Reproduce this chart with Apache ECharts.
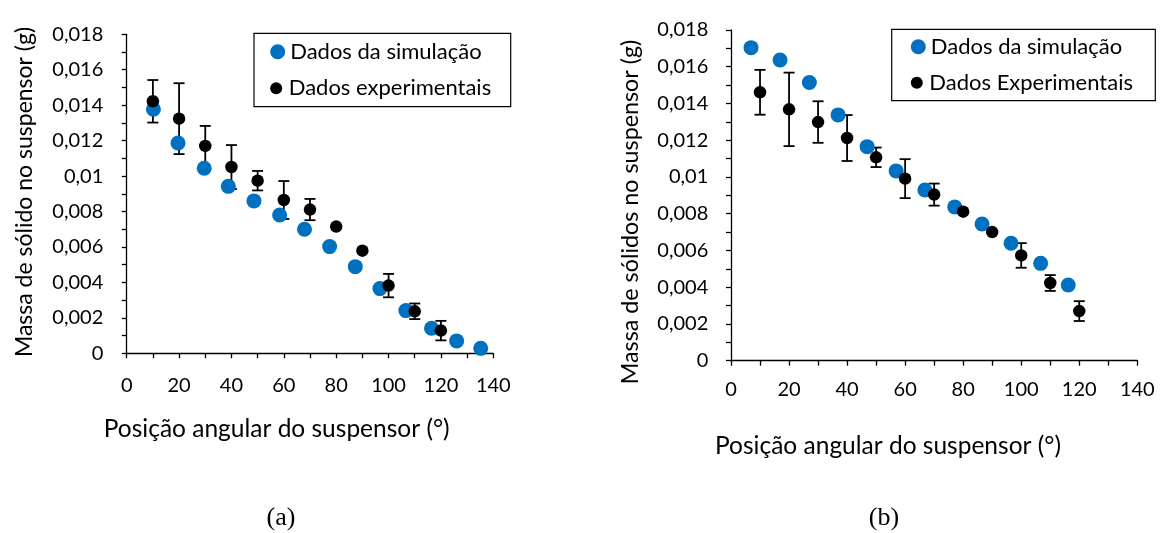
<!DOCTYPE html>
<html><head><meta charset="utf-8">
<script src="https://cdn.jsdelivr.net/npm/echarts@6/dist/echarts.min.js"></script>
<style>html,body{margin:0;padding:0;background:#fff}#c{width:1163px;height:533px}</style>
</head><body><div id="c"></div>
<script>
// ---- data ----
const xTickLabels = ['0','20','40','60','80','100','120','140'];
const yTickLabels = ['0','0,002','0,004','0,006','0,008','0,01','0,012','0,014','0,016','0,018'];

// chart (a)
const xSimA = [10.2, 19.6, 29.6, 38.8, 48.6, 58.4, 67.9, 77.5, 87.3, 96.7, 106.6, 116.4, 126.0, 135.2];
const ySimA = [0.01377, 0.01187, 0.01044, 0.00942, 0.0086, 0.0078, 0.0070, 0.00602, 0.00489, 0.00365, 0.00241, 0.00141, 0.00070, 0.00028];
const xExpA = [10, 20, 30, 40, 50, 60, 70, 80, 90, 100, 110, 120];
const yExpA = [0.01422, 0.01324, 0.01170, 0.01051, 0.00974, 0.00865, 0.00811, 0.00715, 0.00579, 0.00382, 0.00237, 0.00128];
const errA  = [0.0012, 0.0020, 0.00113, 0.00124, 0.00055, 0.00107, 0.0006, 0, 0, 0.00066, 0.00044, 0.00055];

// chart (b)
const xSimB = [6.9, 16.9, 27.0, 36.9, 46.9, 56.9, 66.8, 77.1, 86.5, 96.5, 106.7, 116.2];
const ySimB = [0.01704, 0.01637, 0.01514, 0.01338, 0.01165, 0.01033, 0.00929, 0.00837, 0.00744, 0.00639, 0.00530, 0.00412];
const xExpB = [10, 20, 30, 40, 50, 60, 70, 80, 90, 100, 110, 120];
const yExpB = [0.01461, 0.01368, 0.01299, 0.01212, 0.01107, 0.00991, 0.00904, 0.00811, 0.0070, 0.00573, 0.00423, 0.0027];
const errB  = [0.00122, 0.0020, 0.00113, 0.00125, 0.00053, 0.00106, 0.0006, 0, 0, 0.00067, 0.00043, 0.00054];

const nameSim = 'Dados da simulação';
const nameExpA = 'Dados experimentais';
const nameExpB = 'Dados Experimentais';
const xTitle = 'Posição angular do suspensor (°)';
const yTitleA = 'Massa de sólido no suspensor (g)';
const yTitleB = 'Massa de sólidos no suspensor (g)';

// ---- build ----
const FONT = 'Lato';
const BLUE = '#0070C0';
const zip = (a, b) => a.map((v, i) => [v, b[i]]);
const zip3 = (a, b, c) => a.map((v, i) => [v, b[i], c[i]]);

function xAxis(gi, margin) {
  return {
    type: 'value', gridIndex: gi, min: 0, max: 140, interval: 20,
    axisLine: { show: true, lineStyle: { color: '#000', width: 1.3 } },
    axisTick: { show: true, inside: false, length: 5, lineStyle: { color: '#000', width: 1.3 } },
    minorTick: { show: true, splitNumber: 2, length: 5, lineStyle: { color: '#000', width: 1.3 } },
    splitLine: { show: false },
    axisLabel: { margin: margin, color: '#000', fontFamily: FONT, fontSize: 20,
      formatter: v => xTickLabels[Math.round(v / 20)] }
  };
}
function yAxis(gi, margin) {
  return {
    type: 'value', gridIndex: gi, min: 0, max: 0.018, interval: 0.002,
    axisLine: { show: true, onZero: false, lineStyle: { color: '#000', width: 1.3 } },
    axisTick: { show: true, inside: false, length: 5, lineStyle: { color: '#000', width: 1.3 } },
    minorTick: { show: true, splitNumber: 2, length: 5, lineStyle: { color: '#000', width: 1.3 } },
    splitLine: { show: false },
    axisLabel: { margin: margin, color: '#000', fontFamily: FONT, fontSize: 20,
      formatter: v => yTickLabels[Math.round(v / 0.002)] }
  };
}
function errSeries(gi, data) {
  return {
    type: 'custom', xAxisIndex: gi, yAxisIndex: gi, z: 1, silent: true,
    data: data,
    renderItem: function (params, api) {
      const x = api.value(0), y = api.value(1), e = api.value(2);
      if (!e) return null;
      const top = api.coord([x, y + e]);
      const bot = api.coord([x, y - e]);
      const w = 5.5;
      const st = { stroke: '#000', lineWidth: 1.8 };
      return { type: 'group', children: [
        { type: 'line', shape: { x1: top[0], y1: top[1], x2: bot[0], y2: bot[1] }, style: st },
        { type: 'line', shape: { x1: top[0] - w, y1: top[1], x2: top[0] + w, y2: top[1] }, style: st },
        { type: 'line', shape: { x1: bot[0] - w, y1: bot[1], x2: bot[0] + w, y2: bot[1] }, style: st }
      ]};
    }
  };
}
function legend(name, left, top, h, color) {
  return {
    data: [{ name: name, icon: 'circle', itemStyle: { color: color } }],
    left: left, top: top, padding: 0, orient: 'vertical',
    itemWidth: 15, itemHeight: h, selectedMode: false,
    textStyle: { fontFamily: FONT, fontSize: 22, color: '#000', lineHeight: 24 }
  };
}
function txt(x, y, s, size, rot, fam) {
  return { type: 'text', x: x, y: y, rotation: rot || 0,
    style: { text: s, fontFamily: fam || FONT, fontSize: size, fill: '#000',
      textAlign: 'center', textVerticalAlign: 'middle' } };
}

const option = {
  animation: false,
  backgroundColor: '#fff',
  grid: [
    { left: 126.7, right: 1163 - 493.3, top: 34.3, bottom: 533 - 353.3 },
    { left: 731, right: 1163 - 1137.3, top: 30, bottom: 533 - 360.7 }
  ],
  xAxis: [xAxis(0, 22), xAxis(1, 18.5)],
  yAxis: [yAxis(0, 23.4), yAxis(1, 22.7)],
  legend: [
    legend(nameSim, 270.2, 39.7, 15, BLUE),
    legend(nameExpA, 270.2, 76.3, 12, '#000'),
    legend(nameSim, 910.8, 34.7, 15, BLUE),
    legend(nameExpB, 910.8, 70.7, 12, '#000')
  ],
  graphic: [
    { type: 'rect', shape: { x: 254, y: 33.3, width: 256.7, height: 73.4 }, style: { fill: 'rgba(0,0,0,0)', stroke: '#000', lineWidth: 1.2 }, z: 0 },
    { type: 'rect', shape: { x: 891.7, y: 29.3, width: 263.6, height: 71.4 }, style: { fill: 'rgba(0,0,0,0)', stroke: '#000', lineWidth: 1.2 }, z: 0 },
    txt(276.7, 429, xTitle, 24.5),
    txt(888, 446, xTitle, 24.5),
    txt(25, 192, yTitleA, 23, Math.PI / 2),
    txt(630, 212, yTitleB, 23.3, Math.PI / 2),
    txt(281, 518, '(a)', 26, 0, 'Liberation Serif'),
    txt(884, 518, '(b)', 26, 0, 'Liberation Serif')
  ],
  series: [
    errSeries(0, zip3(xExpA, yExpA, errA)),
    { type: 'scatter', name: nameSim, xAxisIndex: 0, yAxisIndex: 0, z: 2, symbol: 'circle', symbolSize: 15,
      itemStyle: { color: BLUE, opacity: 1 }, data: zip(xSimA, ySimA) },
    { type: 'scatter', name: nameExpA, xAxisIndex: 0, yAxisIndex: 0, z: 3, symbol: 'circle', symbolSize: 12.5,
      itemStyle: { color: '#000', opacity: 1 }, data: zip(xExpA, yExpA) },
    errSeries(1, zip3(xExpB, yExpB, errB)),
    { type: 'scatter', name: nameSim, xAxisIndex: 1, yAxisIndex: 1, z: 2, symbol: 'circle', symbolSize: 15,
      itemStyle: { color: BLUE, opacity: 1 }, data: zip(xSimB, ySimB) },
    { type: 'scatter', name: nameExpB, xAxisIndex: 1, yAxisIndex: 1, z: 3, symbol: 'circle', symbolSize: 12.5,
      itemStyle: { color: '#000', opacity: 1 }, data: zip(xExpB, yExpB) }
  ]
};
const chart = echarts.init(document.getElementById('c'), null, { renderer: 'canvas' });
chart.setOption(option);
</script></body></html>
